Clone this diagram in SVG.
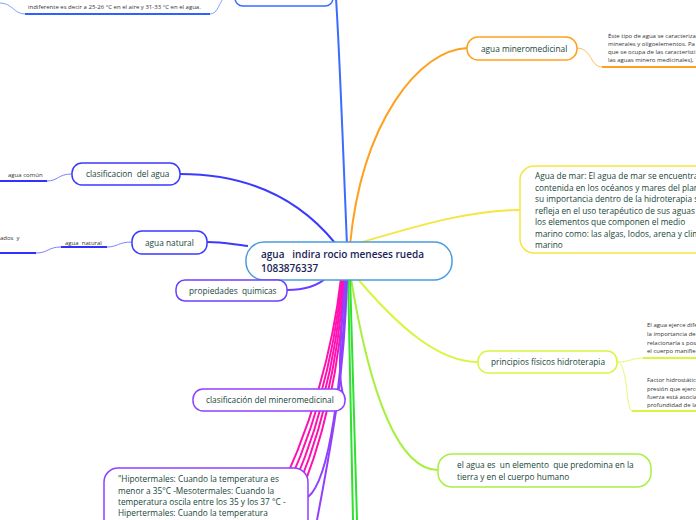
<svg xmlns="http://www.w3.org/2000/svg" width="696" height="520" viewBox="0 0 696 520" xml:space="preserve">
<style>
text{font-family:"Open Sans","Noto Sans","Liberation Sans",sans-serif;white-space:pre;}
.t{font-size:8.3px;fill:#17463a;font-weight:500;}
.c{font-size:10px;fill:#1a2456;font-weight:600;}
.s{font-size:6px;fill:#333;}
.box{fill:#fff;stroke-width:1.5;}
.ln{fill:none;stroke-width:2;}
.ul{fill:none;stroke-width:2;}
.thin{fill:none;stroke-width:1;}
</style>
<rect width="696" height="520" fill="#fff"/>
<g id="connectors">
  <path class="ln" stroke="#3a6cff" d="M347,245 C343,150 340,60 336,-2"/>
  <path class="ln" stroke="#ffa020" d="M350,245 C362,120 420,50 467,48"/>
  <path class="ln" stroke="#f5e642" d="M352,245 C420,225 470,210 520,210"/>
  <path class="ln" stroke="#d8f540" d="M352,272 C400,330 440,362 478,362"/>
  <path class="ln" stroke="#a8f040" d="M350,272 C370,400 400,470 438,470"/>
  <path class="ln" stroke="#30e030" d="M348,275 C350,380 352,450 353,520"/>
  <path class="ln" stroke="#30e030" d="M350,275 C353,380 355,450 357,520"/>
  <path class="ln" stroke="#ff10b0" d="M341,278 C334,340 314,430 265,520"/>
  <path class="ln" stroke="#ff10b0" d="M342,278 C336,340 319,430 271,520"/>
  <path class="ln" stroke="#ff10b0" d="M343,278 C338,340 324,430 277,520"/>
  <path class="ln" stroke="#ff10b0" d="M344,278 C340,340 328,430 283,520"/>
  <path class="ln" stroke="#ff10b0" d="M345,278 C342,340 332,430 289,520"/>
  <path class="ln" stroke="#9040ff" d="M345,280 C341,340 336,380 345,400"/>
  <path class="ln" stroke="#9040ff" d="M346,280 C342,380 330,480 308,497"/>
  <path class="ln" stroke="#9040ff" d="M347,280 C344,380 332,440 317,520"/>
  <path class="ln" stroke="#6a40ff" d="M326,278 C315,288 300,290 287,290"/>
  <path class="ln" stroke="#3a3aff" d="M180,174 C250,174 300,200 335,243"/>
  <path class="ln" stroke="#3a3aff" d="M207,242 C225,242 235,245 248,246"/>
  <path class="thin" stroke="#ffc060" d="M577,48 C592,48 590,67 602,67"/>
  <path class="ul" stroke="#ffa020" d="M602,67 L696,67"/>
  <path class="thin" stroke="#e8f870" d="M617,362 C630,362 632,358 643,358"/>
  <path class="ul" stroke="#d8f540" d="M643,358 L696,358"/>
  <path class="thin" stroke="#e8f870" d="M617,362 C628,362 626,411 632,411"/>
  <path class="ul" stroke="#d8f540" d="M632,411 L696,411"/>
  <path class="thin" stroke="#8080ff" d="M72,174 C58,174 58,181 47,181"/>
  <path class="ul" stroke="#3030ff" d="M0,181 L47,181"/>
  <path class="thin" stroke="#8080ff" d="M132,242 C118,242 118,247 107,247"/>
  <path class="ul" stroke="#3030ff" d="M61,247 L107,247"/>
  <path class="thin" stroke="#8080ff" d="M61,247 C48,247 48,253 36,253"/>
  <path class="ul" stroke="#3030ff" d="M0,253 L36,253"/>
  <path class="thin" stroke="#80a0ff" d="M0,3 C12,3 14,14 25,14"/>
  <path class="ul" stroke="#3060ff" d="M25,14 L210,14"/>
  <path class="thin" stroke="#80a0ff" d="M210,14 C218,14 219,2 224,-2"/>
</g>
<g id="top-left">
  <text class="s" x="28" y="9">indiferente es decir a 25-26 °C en el aire y 31-33 °C en el agua.</text>
</g>
<g id="top-node">
  <rect class="box" stroke="#3a6cff" x="235" y="-20" width="98" height="26" rx="8"/>
</g>
<g id="center">
  <rect class="box" stroke="#4a9be0" x="246" y="242" width="206" height="38" rx="18"/>
  <text class="c" x="261" y="258">agua   indira rocio meneses rueda</text>
  <text class="c" x="261" y="272">1083876337</text>
</g>
<g id="mineromedicinal">
  <rect class="box" stroke="#ffa020" x="467" y="37" width="110" height="23" rx="11"/>
  <text class="t" x="481" y="52">agua mineromedicinal</text>
  <text class="s" x="608" y="38">Éste tipo de agua se caracteriza</text>
  <text class="s" x="608" y="46">minerales y oligoelementos. Pa</text>
  <text class="s" x="608" y="54">que se ocupa de las característi</text>
  <text class="s" x="608" y="62">las aguas minero medicinales),</text>
</g>
<g id="agua-de-mar">
  <rect class="box" stroke="#f5e642" x="520" y="166" width="200" height="87" rx="14"/>
  <text class="t" x="535" y="179">Agua de mar: El agua de mar se encuentra</text>
  <text class="t" x="535" y="191">contenida en los océanos y mares del planeta</text>
  <text class="t" x="535" y="202">su importancia dentro de la hidroterapia se</text>
  <text class="t" x="535" y="214">refleja en el uso terapéutico de sus aguas y</text>
  <text class="t" x="535" y="225">los elementos que componen el medio</text>
  <text class="t" x="535" y="237">marino como: las algas, lodos, arena y clima</text>
  <text class="t" x="535" y="248">marino</text>
</g>
<g id="principios">
  <rect class="box" stroke="#d8f540" x="478" y="351" width="139" height="22" rx="10"/>
  <text class="t" x="491" y="365">principios físicos hidroterapia</text>
  <text class="s" x="647" y="327">El agua ejerce diferentes</text>
  <text class="s" x="647" y="336">la importancia de</text>
  <text class="s" x="647" y="345">relacionarla s posi</text>
  <text class="s" x="647" y="353">el cuerpo manifie</text>
  <text class="s" x="647" y="382">Factor hidrostático</text>
  <text class="s" x="647" y="391">presión que ejerce</text>
  <text class="s" x="647" y="399">fuerza está asociada</text>
  <text class="s" x="647" y="407">profundidad de la</text>
</g>
<g id="el-agua-es">
  <rect class="box" stroke="#a8f040" x="438" y="454" width="213" height="33" rx="14"/>
  <text class="t" x="457" y="468">el agua es  un elemento  que predomina en la</text>
  <text class="t" x="457" y="480">tierra y en el cuerpo humano</text>
</g>
<g id="clasificacion-mineromedicinal">
  <rect class="box" stroke="#9040ff" x="193" y="389" width="152" height="22" rx="10"/>
  <text class="t" x="206" y="403">clasificación del mineromedicinal</text>
</g>
<g id="hipotermales">
  <rect class="box" stroke="#9040ff" x="104" y="468" width="204" height="80" rx="14"/>
  <text class="t" x="118" y="482">"Hipotermales: Cuando la temperatura es</text>
  <text class="t" x="118" y="494">menor a 35°C -Mesotermales: Cuando la</text>
  <text class="t" x="118" y="505">temperatura oscila entre los 35 y los 37 °C -</text>
  <text class="t" x="118" y="516">Hipertermales: Cuando la temperatura</text>
</g>
<g id="propiedades">
  <rect class="box" stroke="#6a40ff" x="176" y="280" width="111" height="21" rx="9"/>
  <text class="t" x="189" y="294">propiedades  quimicas</text>
</g>
<g id="clasificacion-agua">
  <rect class="box" stroke="#3a3aff" x="72" y="163" width="108" height="22" rx="10"/>
  <text class="t" x="86" y="177">clasificacion  del agua</text>
  <text class="s" x="8" y="177">agua común</text>
</g>
<g id="agua-natural">
  <rect class="box" stroke="#3a3aff" x="132" y="231" width="75" height="23" rx="10"/>
  <text class="t" x="145" y="246">agua natural</text>
  <text class="s" x="65" y="245">agua  natural</text>
  <text class="s" x="0" y="240">ados  y</text>
</g>
</svg>
